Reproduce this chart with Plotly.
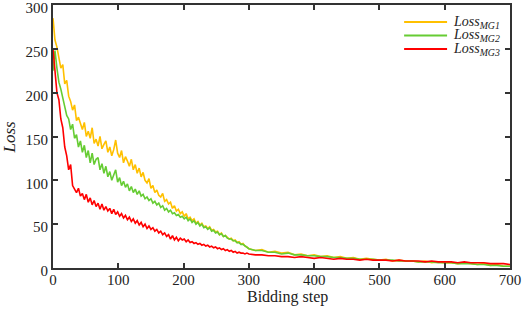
import plotly.graph_objects as go

steps = list(range(0, 300, 3)) + list(range(300, 701, 10))

loss_mg1 = [285, 260, 252, 240, 228, 232, 210, 214, 196, 190,
            180, 186, 168, 172, 164, 158, 166, 150, 156, 148,
            160, 142, 147, 139, 150, 136, 141, 145, 132, 138,
            128, 135, 146, 131, 126, 134, 120, 127, 122, 116,
            124, 112, 118, 108, 114, 104, 109, 100, 97, 102,
            91, 94, 86, 89, 83, 81, 85, 76, 78, 73,
            75, 68, 71, 65, 67, 62, 64, 59, 62, 56,
            58, 54, 56, 51, 53, 49, 51, 47, 48, 45,
            47, 43, 44, 41, 42, 38, 40, 36, 37, 35,
            33, 34, 31, 32, 29, 30, 27, 28, 25, 24,
            22, 20, 21, 18, 19, 17, 18, 15, 16, 14, 15, 13, 14, 12, 13, 11, 12, 10, 11, 10,
            9, 10, 8, 9, 8, 8, 7, 8, 6, 7, 6, 6, 5, 6, 5, 4, 5, 3, 4, 2, 2]

loss_mg2 = [225, 248, 228, 212, 204, 195, 184, 174, 170, 158,
            164, 148, 152, 138, 145, 132, 140, 126, 134, 120,
            131, 118, 124, 126, 112, 119, 108, 116, 104, 110,
            100, 107, 112, 98, 103, 94, 99, 92, 96, 88,
            93, 86, 90, 84, 88, 82, 84, 79, 81, 77,
            79, 74, 76, 72, 74, 69, 71, 66, 68, 64,
            66, 62, 63, 60, 61, 58, 59, 56, 58, 54,
            56, 52, 54, 50, 52, 48, 50, 46, 47, 44,
            46, 42, 43, 40, 41, 38, 39, 36, 37, 34,
            33, 33, 31, 31, 29, 29, 27, 27, 25, 24,
            22, 20, 20, 18, 18, 16, 17, 15, 15, 14, 14, 13, 13, 12, 12, 11, 11, 10, 10, 10,
            9, 9, 9, 8, 8, 8, 7, 7, 7, 6, 6, 6, 5, 5, 5, 4, 4, 3, 3, 2, 2]

loss_mg3 = [250, 228, 200, 192, 170, 160, 138, 128, 112, 118,
            94, 90, 86, 91, 82, 85, 78, 84, 75, 80,
            72, 77, 70, 74, 67, 73, 66, 70, 65, 68,
            62, 67, 61, 64, 59, 62, 57, 60, 55, 58,
            53, 56, 51, 54, 49, 52, 47, 50, 45, 48,
            44, 46, 42, 44, 40, 42, 38, 40, 36, 38,
            33, 37, 32, 35, 31, 34, 32, 33, 30, 32,
            29, 30, 28, 29, 27, 28, 26, 27, 25, 26,
            24, 25, 23, 24, 22, 23, 21, 22, 20, 21,
            19, 20, 18, 19, 17, 18, 17, 17, 16, 17,
            16, 15, 15, 14, 14, 13, 13, 12, 13, 12, 11, 12, 11, 10, 11, 10, 10, 9, 10, 9,
            9, 9, 8, 9, 8, 8, 8, 7, 8, 7, 7, 7, 6, 7, 6, 6, 6, 5, 5, 5, 4]

series_names = ["MG1", "MG2", "MG3"]
series_values = [loss_mg1, loss_mg2, loss_mg3]
series_colors = ["#FFC000", "#66CC33", "#FF0000"]

x_ticks = [0, 100, 200, 300, 400, 500, 600, 700]
y_ticks = [0, 50, 100, 150, 200, 250, 300]

FONT = "Liberation Serif, Times New Roman, serif"
W, H = 526, 310
ML, MR, MT, MB = 52.5, 16, 5, 42
PW, PH = W - ML - MR, H - MT - MB

fig = go.Figure()
for nm, vals, col in zip(series_names, series_values, series_colors):
    fig.add_trace(go.Scatter(x=steps, y=vals, mode="lines", name="Loss" + nm,
                             line=dict(color=col, width=1.6), showlegend=False))

axis_common = dict(showline=True, linecolor="#333333", linewidth=2, mirror="ticks",
                   ticks="inside", ticklen=5, tickcolor="#333333", tickwidth=1.5,
                   showgrid=False, zeroline=False, automargin=False,
                   ticklabeloverflow="allow",
                   tickfont=dict(family=FONT, size=15, color="#222222"))

def px_x(p):
    return (p - ML) / PW

def px_y(p):
    return (H - MB - p) / PH

shapes = []
annotations = []
legend_rows = [22, 35.5, 49]
for row, nm, col in zip(legend_rows, series_names, series_colors):
    shapes.append(dict(type="line", xref="paper", yref="paper",
                       x0=px_x(404), x1=px_x(447), y0=px_y(row), y1=px_y(row),
                       line=dict(color=col, width=2)))
    annotations.append(dict(xref="paper", yref="paper", x=px_x(451), y=px_y(row),
                            xanchor="left", yanchor="middle", showarrow=False,
                            text="<i>Loss</i><sub><i>" + nm + "</i></sub>",
                            font=dict(family=FONT, size=14, color="#222222")))

annotations.append(dict(xref="paper", yref="paper", x=px_x(287), y=px_y(297),
                        xanchor="center", yanchor="middle", showarrow=False,
                        text="Bidding step", font=dict(family=FONT, size=16, color="#222222")))
annotations.append(dict(xref="paper", yref="paper", x=px_x(8), y=px_y(137),
                        xanchor="center", yanchor="middle", showarrow=False, textangle=-90,
                        text="<i>Loss</i>", font=dict(family=FONT, size=17, color="#222222")))

fig.update_layout(
    width=W, height=H,
    margin=dict(l=ML, r=MR, t=MT, b=MB, autoexpand=False),
    plot_bgcolor="white", paper_bgcolor="white",
    font=dict(family=FONT, size=15, color="#222222"),
    xaxis=dict(range=[0, 700], tickvals=x_ticks, ticklabelstandoff=-3, **axis_common),
    yaxis=dict(range=[0, 300], tickvals=y_ticks, ticklabelshift=3, **axis_common),
    shapes=shapes,
    annotations=annotations,
    showlegend=False,
)

fig.write_html("out.html", config={"displayModeBar": False},
               post_script="document.body.style.margin='0';")
